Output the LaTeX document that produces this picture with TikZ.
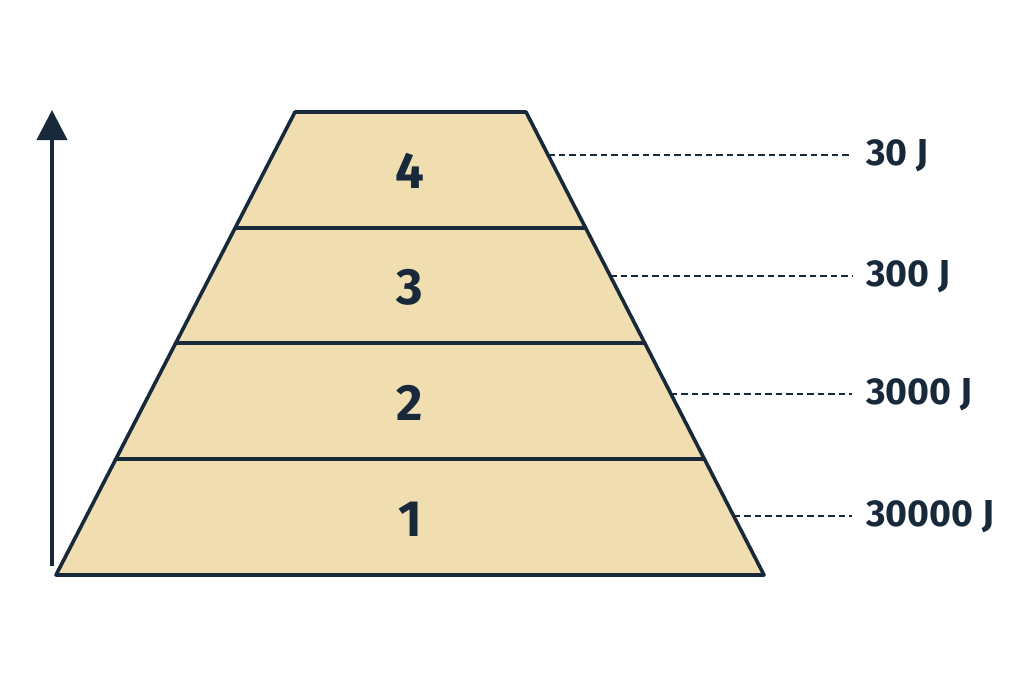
\documentclass[tikz,border=0pt]{standalone}
\usepackage{fontspec}
\setmainfont{Fira Sans}
\usetikzlibrary{arrows.meta,calc}
\definecolor{ink}{HTML}{17293A}
\definecolor{sand}{HTML}{F0DEB0}
\begin{document}
\begin{tikzpicture}[x=1pt,y=-1pt,
  edge/.style={draw=ink,line width=3.6pt,line join=round},
  divider/.style={draw=ink,line width=3.2pt},
  leader/.style={draw=ink,line width=1.8pt,dash pattern=on 6.5pt off 4pt},
  lvl/.style={text=ink,font=\fontsize{51}{56}\selectfont\bfseries,inner sep=0pt},
  energy/.style={text=ink,font=\fontsize{37.5}{42}\selectfont\bfseries,inner sep=0pt,anchor=west}]
\useasboundingbox[fill=white] (0,0) rectangle (1024,683);
% pyramid
\coordinate (BL) at (56,575);
\coordinate (BR) at (764,575);
\coordinate (TR) at (526,112);
\coordinate (TL) at (295,112);
\fill[sand] (BL) -- (BR) -- (TR) -- (TL) -- cycle;
% dividers
\foreach \y/\n in {228/a,343/b,459/c}{
  \coordinate (L\n) at ($(BL)!{(575-\y)/463}!(TL)$);
  \coordinate (R\n) at ($(BR)!{(575-\y)/463}!(TR)$);
  \draw[divider] (L\n) -- (R\n);
}
\draw[edge] (BL) -- (BR) -- (TR) -- (TL) -- cycle;
% level numbers
\node[lvl] (n4) at (410,171) {4};
\node[lvl] (n3) at (410,287) {3};
\node[lvl] (n2) at (410,403) {2};
\node[lvl] (n1) at (410,519) {1};
% energy labels
\node[energy] (e4) at (866,156) {30 J};
\node[energy] (e3) at (866,277) {300 J};
\node[energy] (e2) at (866,395) {3000 J};
\node[energy] (e1) at (866,517) {30000 J};
\foreach \y/\e in {155/e4,276/e3,394/e2,516/e1}{
  \coordinate (s\e) at ($(BR)!{(575-\y)/463}!(TR)$);
  \draw[leader] (s\e) -- ([xshift=-14pt]\e.west |- s\e);
}
% arrow
\coordinate (A0) at (52,566);
\coordinate (A1) at (52,110);
\draw[draw=ink,line width=4pt,-{Triangle[length=30pt,width=30pt]}] (A0) -- (A1);
\end{tikzpicture}
\end{document}
